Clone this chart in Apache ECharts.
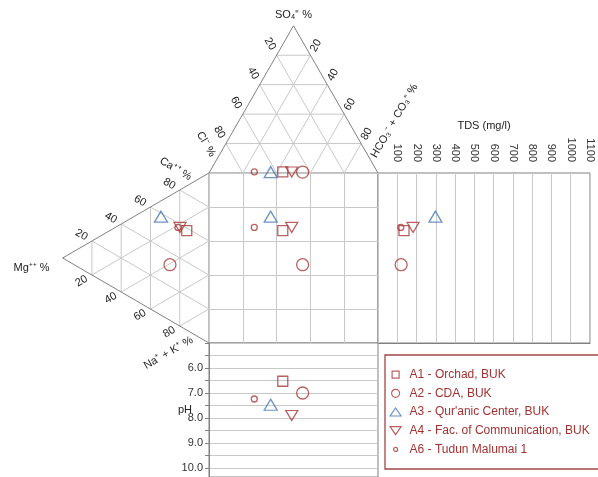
<!DOCTYPE html>
<html>
<head>
<meta charset="utf-8">
<script src="https://cdn.jsdelivr.net/npm/echarts@6/dist/echarts.min.js"></script>
<style>
  html, body { margin: 0; padding: 0; background: #fff; }
  #chart { width: 598px; height: 477px; }
</style>
</head>
<body>
<div id="chart"></div>
<script>
// samples
const samples = ['A1 - Orchad, BUK', 'A2 - CDA, BUK', "A3 - Qur'anic Center, BUK",
  'A4 - Fac. of Communication, BUK', 'A6 - Tudun Malumai 1'];
// anions, % (Cl = 100 - SO4 - HCO3)
const so4 = [0.7, 0.6, 0.6, 0.7, 0.8];
const hco3 = [43.3, 55.1, 36.2, 48.6, 26.4];
// cations, % (Na+K = 100 - Mg - Ca)
const mg = [15.2, 26.7, 32.8, 19.8, 21.2];
const ca = [58.5, 32.7, 57.9, 58.1, 57.4];
// TDS mg/l and pH
const tds = [135, 120, 298, 182, 118];
const ph = [6.53, 7.0, 7.47, 7.9, 7.24];
// ternary tick values
const triTicks = [20, 40, 60, 80];

const RED = '#a83a3a', BLUE = '#4a78b5';
const colors = [RED, RED, BLUE, RED, RED];
const symbols = ['rect', 'circle', 'triangle', 'path://M0 0L12 0L6 10Z', 'circle'];
const sizes = [[10, 10], 12, [13, 11], [12, 10], 6];
const legendIcons = [
  'path://M0 0L0 0M12 12L12 12M2.5 2.5H9.5V9.5H2.5Z',
  'path://M0 0L0 0M12 12L12 12M10 6A4 4 0 1 1 2 6A4 4 0 1 1 10 6Z',
  'path://M0 0L0 0M12 12L12 12M0.5 10H11.5L6 2Z',
  'path://M0 0L0 0M12 12L12 12M0.5 2H11.5L6 10Z',
  'path://M0 0L0 0M12 12L12 12M8 6A2 2 0 1 1 4 6A2 2 0 1 1 8 6Z'
];

// diagram coordinates: square is 0..100 x 0..100, triangles sit on top and left
const H = 50 * Math.sqrt(3);
const topXY = (s, h) => [h + s / 2, 100 + s * H / 100];
const leftXY = (m, c) => [-m * H / 100, c + m / 2];

// triangle grid lines
const segs = [];
triTicks.forEach(k => {
  segs.push([...topXY(k, 0), ...topXY(k, 100 - k), 0]);
  segs.push([...topXY(0, k), ...topXY(100 - k, k), 0]);
  segs.push([...topXY(0, 100 - k), ...topXY(100 - k, 0), 0]);
  segs.push([...leftXY(k, 0), ...leftXY(k, 100 - k), 0]);
  segs.push([...leftXY(0, k), ...leftXY(100 - k, k), 0]);
  segs.push([...leftXY(0, 100 - k), ...leftXY(100 - k, 0), 0]);
});
segs.push([...topXY(0, 0), ...topXY(100, 0), 1], [...topXY(100, 0), ...topXY(0, 100), 1]);
segs.push([...leftXY(100, 0), ...leftXY(0, 100), 1], [...leftXY(100, 0), ...leftXY(0, 0), 1]);

// triangle labels
const c30 = Math.sqrt(3) / 2;
const edges = {
  cl: { rot: -60, align: 'right', o: [-0.5, -c30] },
  hco3: { rot: 60, align: 'left', o: [0.5, -c30] },
  ca: { rot: -30, align: 'right', o: [-c30, -0.5] },
  na: { rot: 30, align: 'right', o: [-c30, 0.5] }
};
const labels = [];
triTicks.forEach(k => {
  labels.push({ pos: topXY(100 - k, 0), text: String(k), e: 'cl', gap: 7 });
  labels.push({ pos: topXY(100 - k, k), text: String(k), e: 'hco3', gap: 5 });
  labels.push({ pos: leftXY(100 - k, k), text: String(k), e: 'ca', gap: 6 });
  labels.push({ pos: leftXY(100 - k, 0), text: String(k), e: 'na', gap: 6 });
});
labels.push({ pos: topXY(8, 0), text: 'Cl⁻ %', e: 'cl', gap: 6 });
labels.push({ pos: topXY(8, 92), text: 'HCO₃⁻ + CO₃⁼ %', e: 'hco3', gap: 5 });
labels.push({ pos: leftXY(9, 91), text: 'Ca⁺⁺ %', e: 'ca', gap: 6 });
labels.push({ pos: leftXY(8, 0), text: 'Na⁺ + K⁺ %', e: 'na', gap: 6 });
labels.push({ pos: topXY(100, 0), text: 'SO₄⁼ %', rot: 0, align: 'center', dx: 0, dy: -11 });
labels.push({ pos: leftXY(100, 0), text: 'Mg⁺⁺ %', rot: 0, align: 'right', dx: -13, dy: 10 });

const FONT = '"Liberation Sans", Arial, sans-serif';

const series = [
  {
    type: 'custom', xAxisIndex: 0, yAxisIndex: 0, silent: true, z: 1,
    data: segs, encode: { x: [0, 2], y: [1, 3] },
    renderItem: (params, api) => {
      const a = api.coord([api.value(0), api.value(1)]);
      const b = api.coord([api.value(2), api.value(3)]);
      return {
        type: 'line',
        shape: { x1: a[0], y1: a[1], x2: b[0], y2: b[1] },
        style: { stroke: api.value(4) ? '#808080' : '#c8c8c8', lineWidth: 1 }
      };
    }
  },
  {
    type: 'custom', xAxisIndex: 0, yAxisIndex: 0, silent: true, z: 2,
    data: labels.map(l => l.pos),
    renderItem: (params, api) => {
      const l = labels[params.dataIndex];
      const p = api.coord([api.value(0), api.value(1)]);
      let rot, align, dx, dy;
      if (l.e) {
        const e = edges[l.e];
        rot = e.rot; align = e.align; dx = e.o[0] * l.gap; dy = e.o[1] * l.gap;
      } else {
        rot = l.rot; align = l.align; dx = l.dx; dy = l.dy;
      }
      return {
        type: 'text', x: p[0] + dx, y: p[1] + dy, rotation: rot * Math.PI / 180,
        style: {
          text: l.text, x: 0, y: 0, fill: '#222', font: '11px ' + FONT,
          align: align, verticalAlign: 'middle', textAlign: align, textVerticalAlign: 'middle'
        }
      };
    }
  }
];

samples.forEach((name, i) => {
  const tp = topXY(so4[i], hco3[i]);
  const lp = leftXY(mg[i], ca[i]);
  const common = {
    name: name, type: 'scatter', symbol: symbols[i], symbolSize: sizes[i], clip: false, z: 5,
    itemStyle: { color: 'rgba(0,0,0,0)', borderColor: colors[i], borderWidth: 1.3 }
  };
  series.push(Object.assign({}, common, { xAxisIndex: 0, yAxisIndex: 0, data: [tp, lp, [tp[0], lp[1]]] }));
  series.push(Object.assign({}, common, { xAxisIndex: 1, yAxisIndex: 1, data: [[tds[i], lp[1]]] }));
  series.push(Object.assign({}, common, { xAxisIndex: 2, yAxisIndex: 2, data: [[tp[0], ph[i]]] }));
});

const chart = echarts.init(document.getElementById('chart'));
chart.setOption({
  animation: false,
  textStyle: { fontFamily: FONT },
  grid: [
    { left: 209, top: 173, width: 169, height: 170, show: true, borderColor: '#808080', borderWidth: 1 },
    { left: 378, top: 173, width: 212, height: 170, show: true, borderColor: '#808080', borderWidth: 1 },
    { left: 209, top: 343, width: 169, height: 134, show: true, borderColor: '#808080', borderWidth: 1 }
  ],
  xAxis: [
    {
      gridIndex: 0, type: 'value', min: 0, max: 100, interval: 20,
      axisLine: { show: false }, axisTick: { show: false }, axisLabel: { show: false },
      splitLine: { lineStyle: { color: '#c8c8c8' } }
    },
    {
      gridIndex: 1, type: 'value', position: 'top', min: 0, max: 1100, interval: 100,
      name: 'TDS (mg/l)', nameLocation: 'middle', nameGap: 42, nameMoveOverlap: false,
      nameTextStyle: { color: '#222', fontSize: 11 },
      axisLine: { lineStyle: { color: '#808080' } }, axisTick: { show: false },
      axisLabel: { rotate: -90, margin: 11, fontSize: 11, color: '#333',
        formatter: v => (v === 0 ? '' : String(v)) },
      splitLine: { lineStyle: { color: '#c8c8c8' } }
    },
    { gridIndex: 2, type: 'value', min: 0, max: 100, show: false }
  ],
  yAxis: [
    {
      gridIndex: 0, type: 'value', min: 0, max: 100, interval: 20,
      axisLine: { show: false }, axisTick: { show: false }, axisLabel: { show: false },
      splitLine: { lineStyle: { color: '#c8c8c8' } }
    },
    { gridIndex: 1, type: 'value', min: 0, max: 100, show: false },
    {
      gridIndex: 2, type: 'value', inverse: true, min: 5, max: 10.36, interval: 0.5,
      name: 'pH', nameLocation: 'middle', nameRotate: 0, nameGap: 17, nameMoveOverlap: false,
      nameTextStyle: { color: '#222', fontSize: 11, padding: [3, 0, 0, 0] },
      axisLine: { lineStyle: { color: '#808080' } },
      axisTick: { length: 4, lineStyle: { color: '#808080' } },
      axisLabel: { margin: 6, fontSize: 11, color: '#333', showMaxLabel: false,
        formatter: v => (v >= 6 && v % 1 === 0 ? v.toFixed(1) : '') },
      splitLine: { lineStyle: { color: '#c8c8c8' } }
    }
  ],
  legend: {
    data: samples.map((n, i) => ({ name: n, icon: legendIcons[i] })),
    orient: 'vertical', left: 385, top: 355,
    padding: [13, 12, 13, 4], itemGap: 5.5, itemWidth: 12, itemHeight: 12,
    borderColor: '#a34545', borderWidth: 1.3, selectedMode: false,
    itemStyle: { borderWidth: 1.2 },
    textStyle: { color: '#a33232', fontSize: 12, fontFamily: FONT, padding: [0, 0, 0, 3] }
  },
  series: series
});
</script>
</body>
</html>
